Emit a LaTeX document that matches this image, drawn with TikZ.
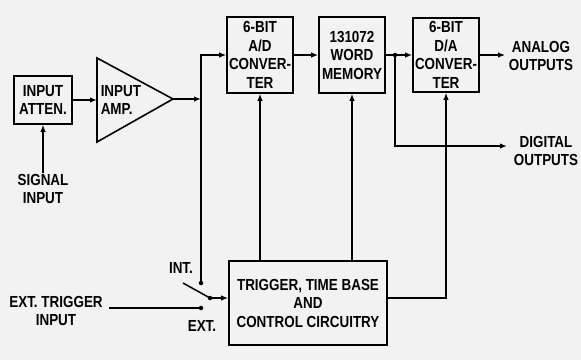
\documentclass[tikz,border=0pt]{standalone}
\usepackage{fontspec}
\setmainfont{Liberation Sans}[FakeStretch=0.84]
\usetikzlibrary{arrows.meta}
\newcommand\lettering{\bfseries\fontsize{16}{18.5}\selectfont}

\begin{document}
\begin{tikzpicture}[x=1pt, y=-1pt, line width=1.5pt,
                blk/.style={draw, line width=1.6pt, inner sep=0pt,
                    align=center, font=\lettering},
                lbl/.style={align=center, font=\lettering, inner sep=0pt},
                arr/.style={-{Latex[length=7pt, width=5.5pt]}},
                dot/.style={circle, fill, inner sep=0pt, minimum size=4.5pt}
            ]
                \fill[black!5] (0,0) rectangle (581,360);
                \useasboundingbox (0,0) rectangle (581,360);

                % input stage
                \node[blk, minimum width=58pt, minimum height=48pt] (atten) at (43,100)
                    {INPUT\\ATTEN.};
                \node[lbl] (signal) at (43,189) {SIGNAL\\INPUT};
                \draw[arr] (signal) -- (atten);

                \draw[line width=1.6pt] (97,58) -- (173,99) -- (97,142) -- cycle;
                \coordinate (ampin) at (97,100);
                \coordinate (ampout) at (173,99);
                \node[lbl, anchor=west, align=left] (amp) at (100,100) {INPUT\\AMP.};
                \draw[arr] (atten) -- (ampin);
                \coordinate (feed) at (201,99);
                \draw[arr] (ampout) -- (feed);

                % converter chain
                \node[blk, minimum width=66pt, minimum height=76pt] (ad) at (260,55)
                    {6-BIT\\A/D\\CONVER-\\TER};
                \node[blk, minimum width=66pt, minimum height=76pt] (mem) at (352,55)
                    {131072\\WORD\\MEMORY};
                \node[blk, minimum width=66pt, minimum height=74pt] (da) at (446,55)
                    {6-BIT\\D/A\\CONVER-\\TER};
                \node[lbl] (analog) at (541,56) {ANALOG\\OUTPUTS};
                \node[lbl] (digital) at (546,151) {DIGITAL\\OUTPUTS};
                \draw[arr] (ad) -- (mem);
                \draw[arr] (mem) -- (da);
                \draw[arr] (da) -- ([xshift=-3pt]analog.west |- da);
                \node[dot] (split) at (395,55) {};
                \coordinate (digout) at (507,146);
                \draw[arr] (split.center) |- (digout);

                % trigger and switch
                \node[blk, minimum width=158pt, minimum height=84pt] (trig) at (308,303)
                    {TRIGGER, TIME BASE\\AND\\CONTROL CIRCUITRY};
                \node[dot] (int) at (201,283) {};
                \node[dot] (ext) at (201,308) {};
                \node[dot] (pivot) at (210,298) {};
                \coordinate (arm) at (183,283);
                \node[lbl] (intlbl) at (181,268) {INT.};
                \node[lbl] (extlbl) at (202,326) {EXT.};
                \node[lbl] (extin) at (56,311) {EXT.\ TRIGGER\\INPUT};
                \draw (pivot.center) -- (arm);
                \draw[arr] (pivot.center) -- (pivot -| trig.west);
                \draw ([xshift=6pt]extin.east |- ext) -- (ext.center);
                \draw[arr] (int.center) |- (ad.west);

                \draw[arr] (trig.north -| ad) -- (ad);
                \draw[arr] (trig.north -| mem) -- (mem);
                \draw[arr] (trig.east |- pivot) -| (da);

            \end{tikzpicture}
\end{document}
